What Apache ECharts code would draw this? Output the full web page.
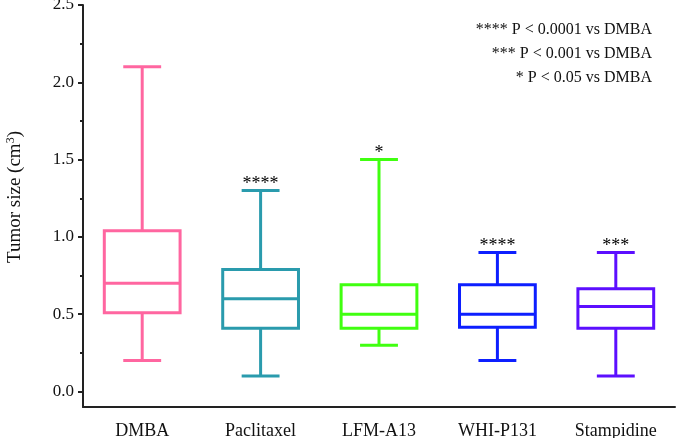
<!DOCTYPE html>
<html>
<head>
<meta charset="utf-8">
<script src="https://cdn.jsdelivr.net/npm/echarts@6/dist/echarts.min.js"></script>
<style>html,body{margin:0;padding:0;background:#fff}#c{width:676px;height:438px}</style>
</head>
<body>
<div id="c"></div>
<script>
const categories = ['DMBA', 'Paclitaxel', 'LFM-A13', 'WHI-P131', 'Stampidine'];
// [min, Q1, median, Q3, max]
const boxValues = [
  [0.20, 0.51, 0.70, 1.04, 2.10],
  [0.10, 0.41, 0.60, 0.79, 1.30],
  [0.30, 0.41, 0.50, 0.69, 1.50],
  [0.20, 0.415, 0.50, 0.69, 0.90],
  [0.10, 0.41, 0.55, 0.665, 0.90]
];
const significance = ['', '****', '*', '****', '***'];
const colors = ['#FF66A0', '#2A9BAD', '#40FF10', '#0D1FFF', '#5C0FFF'];
const yMajorTicks = [0, 0.5, 1.0, 1.5, 2.0, 2.5];
const yMinorTicks = [0.25, 0.75, 1.25, 1.75, 2.25];
const legendLines = ['**** P < 0.0001 vs DMBA', '*** P < 0.001 vs DMBA', '* P < 0.05 vs DMBA'];

const FONT = 'Liberation Serif';
const chart = echarts.init(document.getElementById('c'));

const data = boxValues.map((v, i) => ({
  value: [i].concat(v),
  itemStyle: { color: colors[i] }
}));

function renderItem(params, api) {
  const i = api.value(0);
  const color = api.visual('color');
  const band = api.size([1, 0])[0];
  const bw = band * 0.64;
  const cw = bw / 2;
  const pMin = api.coord([i, api.value(1)]);
  const pQ1 = api.coord([i, api.value(2)]);
  const pMed = api.coord([i, api.value(3)]);
  const pQ3 = api.coord([i, api.value(4)]);
  const pMax = api.coord([i, api.value(5)]);
  const x = pMed[0];
  const st = { stroke: color, lineWidth: 3, fill: null };
  const children = [
    { type: 'rect', shape: { x: x - bw / 2, y: pQ3[1], width: bw, height: pQ1[1] - pQ3[1] }, style: st },
    { type: 'line', shape: { x1: x - bw / 2, y1: pMed[1], x2: x + bw / 2, y2: pMed[1] }, style: st },
    { type: 'line', shape: { x1: x, y1: pQ3[1], x2: x, y2: pMax[1] }, style: st },
    { type: 'line', shape: { x1: x, y1: pQ1[1], x2: x, y2: pMin[1] }, style: st },
    { type: 'line', shape: { x1: x - cw / 2, y1: pMax[1], x2: x + cw / 2, y2: pMax[1] }, style: st },
    { type: 'line', shape: { x1: x - cw / 2, y1: pMin[1], x2: x + cw / 2, y2: pMin[1] }, style: st }
  ];
  const sig = significance[params.dataIndex];
  if (sig) {
    children.push({
      type: 'text',
      style: {
        text: sig, x: x, y: pMax[1] + 3,
        align: 'center', verticalAlign: 'bottom',
        font: '18px "' + FONT + '"', fill: '#000'
      }
    });
  }
  return { type: 'group', children: children };
}

chart.setOption({
  animation: false,
  backgroundColor: '#fff',
  grid: { left: 83, right: 1, top: 5, bottom: 31, outerBoundsMode: 'none', containLabel: false },
  xAxis: {
    type: 'category',
    data: categories,
    axisLine: { onZero: false, lineStyle: { color: '#222', width: 2 } },
    axisTick: { alignWithLabel: true, length: 5, lineStyle: { color: '#222', width: 2 } },
    axisLabel: { color: '#111', fontFamily: FONT, fontSize: 18, margin: 15 }
  },
  yAxis: [{
    type: 'value',
    min: -0.1, max: 2.5,
    splitLine: { show: false },
    axisLine: { show: true, onZero: false, lineStyle: { color: '#222', width: 2 } },
    axisTick: { show: true, length: 5, customValues: yMajorTicks, lineStyle: { color: '#222', width: 2 } },
    axisLabel: { customValues: yMajorTicks, formatter: v => v.toFixed(1), color: '#111', fontFamily: FONT, fontSize: 17, margin: 9 },
    name: 'Tumor size (cm{sup|3})',
    nameLocation: 'middle',
    nameRotate: 90,
    nameGap: 58,
    nameTextStyle: {
      color: '#111', fontFamily: FONT, fontSize: 19,
      padding: [0, 0, 0, 18],
      rich: { sup: { fontFamily: FONT, fontSize: 12, verticalAlign: 'top', padding: [0, 0, 8, 0], color: '#111' } }
    }
  }, {
    type: 'value',
    min: -0.1, max: 2.5,
    position: 'left',
    splitLine: { show: false },
    axisLine: { show: false, onZero: false },
    axisTick: { show: true, length: 3, customValues: yMinorTicks, lineStyle: { color: '#222', width: 2 } },
    axisLabel: { show: false }
  }],
  graphic: legendLines.map((t, k) => ({
    type: 'text',
    right: 24,
    top: 22 + k * 24,
    style: { text: t, font: '16px "' + FONT + '"', fill: '#111', align: 'right' }
  })),
  series: [{
    type: 'custom',
    renderItem: renderItem,
    encode: { x: 0, y: [1, 2, 3, 4, 5] },
    data: data,
    clip: false
  }]
});
</script>
</body>
</html>
